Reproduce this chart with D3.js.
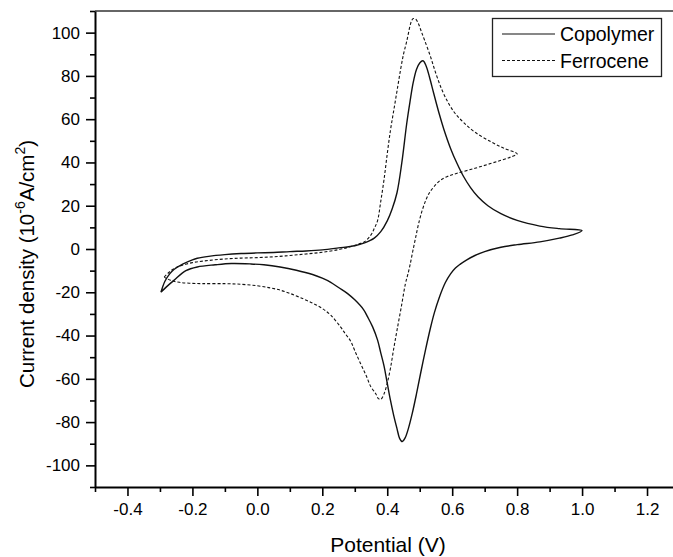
<!DOCTYPE html>
<html>
<head>
<meta charset="utf-8">
<script src="https://cdn.jsdelivr.net/npm/d3@7"></script>
<style>
  html, body { margin: 0; padding: 0; background: #fff; }
  svg { display: block; font-family: "Liberation Sans", Arial, sans-serif; }
</style>
</head>
<body>
<div id="chart"></div>
<script>
// ---- data (potential in V, current density in 1e-6 A/cm2) ----
// copolymer: forward scan -0.3 -> 1.0, then back to -0.3
const copolymerPotential = [
  -0.297, -0.285, -0.27, -0.257, -0.23, -0.2, -0.185, -0.15, -0.1, -0.05, 0.0, 0.05, 0.1, 0.15, 0.2, 0.25,
  0.3, 0.33, 0.36, 0.38, 0.40, 0.415, 0.43, 0.445, 0.46, 0.47, 0.48, 0.49, 0.5, 0.51, 0.52, 0.53,
  0.543, 0.56, 0.574, 0.595, 0.615, 0.635, 0.656, 0.68, 0.71, 0.75, 0.8, 0.87, 0.93, 1.0,
  0.97, 0.93, 0.87, 0.8, 0.75, 0.7, 0.67, 0.645, 0.625, 0.61, 0.595, 0.579, 0.56, 0.545, 0.533, 0.518,
  0.502, 0.49, 0.477, 0.465, 0.455, 0.446, 0.438, 0.43, 0.42, 0.41, 0.4, 0.39, 0.38, 0.37, 0.355, 0.34,
  0.327, 0.3, 0.277, 0.25, 0.226, 0.2, 0.17, 0.12, 0.07, 0.02, -0.02, -0.08, -0.13, -0.185, -0.22,
  -0.257, -0.28, -0.297
];
const copolymerCurrent = [
  -20, -15, -11.5, -9.5, -7, -5, -4.3, -3.4, -2.6, -2.1, -1.8, -1.6, -1.2, -0.9, -0.4, 0.5,
  1.5, 2.8, 5, 8, 13, 18.5, 26, 40, 58, 68, 77, 83, 86, 87, 84.5, 79.5,
  72, 62.5, 55.5, 46.5, 39.5, 33.5, 28.5, 24, 20, 16.3, 13.2, 10.6, 9.4, 8.5,
  6.5, 5, 3.3, 2, 0.8, -1.2, -3, -5, -7, -8.8, -11.5, -15.5, -22.5, -29.5, -36.5, -46.5,
  -58, -67, -76, -83, -87.3, -89, -87.5, -83, -77, -70, -62, -54, -48, -42, -36, -31.5,
  -28, -23.5, -20.5, -17.8, -15.4, -13.5, -11.8, -9.8, -8.3, -7.3, -6.9, -6.7, -7.3, -8.3, -10,
  -14.5, -17.5, -20
];

// ferrocene: forward scan -0.29 -> 0.8, then back
const ferrocenePotential = [
  -0.287, -0.27, -0.25, -0.2, -0.15, -0.1, -0.05, 0.0, 0.05, 0.1, 0.15, 0.2, 0.25, 0.28, 0.31, 0.33,
  0.35, 0.36, 0.37, 0.38, 0.39, 0.40, 0.41, 0.42, 0.43, 0.44, 0.45, 0.46, 0.47, 0.475, 0.48, 0.487,
  0.495, 0.505, 0.515, 0.533, 0.55, 0.57, 0.59, 0.61, 0.635, 0.67, 0.72, 0.76, 0.8,
  0.78, 0.75, 0.718, 0.67, 0.615, 0.585, 0.564, 0.545, 0.53, 0.52, 0.508, 0.497, 0.487, 0.478, 0.47,
  0.463, 0.456, 0.443, 0.43, 0.42, 0.41, 0.40, 0.39, 0.38, 0.372, 0.365, 0.35, 0.335, 0.318, 0.3,
  0.287, 0.27, 0.256, 0.226, 0.2, 0.17, 0.133, 0.1, 0.07, 0.04, 0.0, -0.05, -0.1, -0.17, -0.21,
  -0.24, -0.265, -0.287
];
const ferroceneCurrent = [
  -13, -10.5, -8.5, -6.3, -5.3, -4.6, -4.2, -4.0, -3.6, -3.0, -2.3, -1.5, -0.3, 0.8, 2.2, 3.4,
  6.5, 9.5, 13, 22, 32, 44, 55, 64, 73, 82, 90, 96, 103, 105.5, 106.5, 106.3,
  104.5, 100.5, 96.5, 89, 81, 73, 67, 62.5, 58.5, 54, 49.5, 46.5, 44,
  42.5, 41, 39.5, 37.3, 35, 33.5, 31.8, 29, 26, 23, 18, 12, 5, -1.5, -7.5,
  -12, -16, -27, -37.6, -46, -55, -62, -67, -69.5, -69, -67, -63.8, -58.5, -53, -47,
  -42.5, -39, -36, -30.6, -27.5, -25, -22.5, -20.5, -19, -18, -17, -16.3, -16, -16, -15.8,
  -15.4, -14.6, -13
];

const xMajorTicks = [-0.4, -0.2, 0.0, 0.2, 0.4, 0.6, 0.8, 1.0, 1.2];
const xMinorTicks = [-0.5, -0.3, -0.1, 0.1, 0.3, 0.5, 0.7, 0.9, 1.1];
const yMajorTicks = [-100, -80, -60, -40, -20, 0, 20, 40, 60, 80, 100];
const yMinorTicks = [-110, -90, -70, -50, -30, -10, 10, 30, 50, 70, 90, 110];

const seriesNames = ["Copolymer", "Ferrocene"];

// ---- layout ----
const W = 673, H = 557;
const plot = { left: 95, right: 673, top: 11, bottom: 487 };

const x = d3.scaleLinear().domain([-0.5, 1.28]).range([plot.left, plot.right]);
const y = d3.scaleLinear().domain([-110, 110]).range([plot.bottom, plot.top]);

// plain hyphen for negatives, like the original
const fmtX = d => d3.format(".1f")(d).replace("\u2212", "-");
const fmtY = d => String(d);

const svg = d3.select("#chart").append("svg")
  .attr("width", W)
  .attr("height", H);

// top frame line
svg.append("line")
  .attr("x1", plot.left).attr("x2", plot.right)
  .attr("y1", plot.top).attr("y2", plot.top)
  .attr("stroke", "#333").attr("stroke-width", 1.5);

function styleAxis(g) {
  g.select(".domain").attr("stroke", "#000").attr("stroke-width", 2);
  g.selectAll(".tick line").attr("stroke", "#000").attr("stroke-width", 1.6);
  g.selectAll(".tick text")
    .attr("fill", "#000")
    .style("font-size", "17px")
    .style("font-family", "'Liberation Sans', Arial, sans-serif");
}

// minor ticks
svg.append("g")
  .attr("transform", `translate(0,${plot.bottom})`)
  .call(d3.axisBottom(x).tickValues(xMinorTicks).tickSize(5).tickFormat(""))
  .call(g => { g.select(".domain").remove(); g.selectAll(".tick line").attr("stroke", "#000").attr("stroke-width", 1.6); });

svg.append("g")
  .attr("transform", `translate(${plot.left},0)`)
  .call(d3.axisLeft(y).tickValues(yMinorTicks).tickSize(5).tickFormat(""))
  .call(g => { g.select(".domain").remove(); g.selectAll(".tick line").attr("stroke", "#000").attr("stroke-width", 1.6); });

// major ticks + axis lines
svg.append("g")
  .attr("transform", `translate(0,${plot.bottom})`)
  .call(d3.axisBottom(x).tickValues(xMajorTicks).tickSize(9).tickSizeOuter(0).tickPadding(7).tickFormat(fmtX))
  .call(styleAxis);

svg.append("g")
  .attr("transform", `translate(${plot.left},0)`)
  .call(d3.axisLeft(y).tickValues(yMajorTicks).tickSize(9).tickSizeOuter(0).tickPadding(6).tickFormat(fmtY))
  .call(styleAxis);

// ---- curves ----
const line = d3.line()
  .x(d => x(d[0]))
  .y(d => y(d[1]))
  .curve(d3.curveCatmullRom.alpha(0.5));

const copolymer = copolymerPotential.map((v, i) => [v, copolymerCurrent[i]]);
const ferrocene = ferrocenePotential.map((v, i) => [v, ferroceneCurrent[i]]);

svg.append("path")
  .datum(ferrocene)
  .attr("fill", "none")
  .attr("stroke", "#111")
  .attr("stroke-width", 1.1)
  .attr("stroke-dasharray", "3,2")
  .attr("d", line);

svg.append("path")
  .datum(copolymer)
  .attr("fill", "none")
  .attr("stroke", "#111")
  .attr("stroke-width", 1.4)
  .attr("d", line);

// ---- legend ----
const legend = svg.append("g");
legend.append("rect")
  .attr("x", 492.5).attr("y", 18.5)
  .attr("width", 169).attr("height", 58)
  .attr("fill", "#fff").attr("stroke", "#222").attr("stroke-width", 1.3);

const legendDash = [null, "3,2"];
seriesNames.forEach((name, i) => {
  const ly = 34 + i * 26.5;
  legend.append("line")
    .attr("x1", 502).attr("x2", 555)
    .attr("y1", ly).attr("y2", ly)
    .attr("stroke", "#111")
    .attr("stroke-width", i === 0 ? 1.2 : 1.1)
    .attr("stroke-dasharray", legendDash[i]);
  legend.append("text")
    .attr("x", 560).attr("y", ly + 7)
    .style("font-size", "19.5px")
    .attr("fill", "#000")
    .text(name);
});

// ---- axis titles ----
svg.append("text")
  .attr("x", 388).attr("y", 552)
  .attr("text-anchor", "middle")
  .style("font-size", "21px")
  .attr("fill", "#000")
  .text("Potential (V)");

const yTitle = svg.append("text")
  .attr("transform", "translate(34,264) rotate(-90)")
  .attr("text-anchor", "middle")
  .style("font-size", "20.5px")
  .attr("fill", "#000");
yTitle.append("tspan").text("Current density (10");
yTitle.append("tspan").attr("dy", -9).style("font-size", "14px").text("-6");
yTitle.append("tspan").attr("dy", 9).text("A/cm");
yTitle.append("tspan").attr("dy", -9).style("font-size", "14px").text("2");
yTitle.append("tspan").attr("dy", 9).text(")");
</script>
</body>
</html>
